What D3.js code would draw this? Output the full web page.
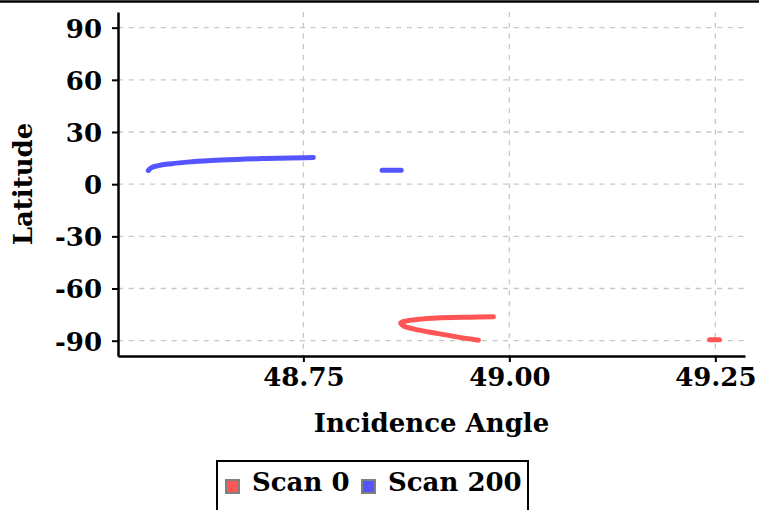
<!DOCTYPE html>
<html>
<head>
<meta charset="utf-8">
<script src="https://cdn.jsdelivr.net/npm/d3@7"></script>
<style>
  html, body { margin: 0; padding: 0; background: #fff; }
  svg { display: block; }
  text { font-family: "DejaVu Serif", serif; font-weight: bold; fill: #000; }
</style>
</head>
<body>
<svg id="chart" width="759" height="510"></svg>
<script>
// Scan 0: the hooked arc near the south pole and a short tail at the far right
const scan0ArcAngle = [48.9806, 48.9523, 48.9119, 48.8916, 48.8755, 48.8682, 48.8714, 48.8835, 48.9119, 48.9362, 48.9624];
const scan0ArcLat   = [-76.3, -76.5, -76.9, -77.6, -78.6, -79.7, -81.5, -83.2, -85.8, -87.8, -89.7];
const scan0TailAngle = [49.243, 49.255];
const scan0TailLat   = [-89.5, -89.5];

// Scan 200: the rising arc just north of the equator and a short flat piece
const scan200ArcAngle = [48.5618, 48.5650, 48.5740, 48.5900, 48.6150, 48.6500, 48.7000, 48.7621];
const scan200ArcLat   = [7.9, 9.3, 10.7, 11.8, 12.9, 13.9, 14.8, 15.4];
const scan200TailAngle = [48.8455, 48.8687];
const scan200TailLat   = [8.0, 8.0];

const seriesNames  = ["Scan 0", "Scan 200"];
const seriesColors = ["#ff5555", "#5555ff"];

const xTicks = [48.75, 49.00, 49.25];
const yTicks = [90, 60, 30, 0, -30, -60, -90];

const zip = (a, b) => a.map((v, i) => [v, b[i]]);

const svg = d3.select("#chart");
const plotLeft = 118, plotRight = 745, plotTop = 12, plotBottom = 356;
const fontSize = "26px";

const x = d3.scaleLinear().domain([48.525, 49.286]).range([plotLeft, plotRight]);
const y = d3.scaleLinear().domain([-98.8, 99]).range([plotBottom, plotTop]);

// the scan-0 arc folds back on itself, so it is smoothed along its path;
// the scan-200 arc is a function of angle and is kept monotone in x
const pathLine = d3.line().x(d => x(d[0])).y(d => y(d[1])).curve(d3.curveCatmullRom);
const xLine = d3.line().x(d => x(d[0])).y(d => y(d[1])).curve(d3.curveMonotoneX);

const series = [
  { name: seriesNames[0], color: seriesColors[0], gen: pathLine,
    segments: [zip(scan0ArcAngle, scan0ArcLat), zip(scan0TailAngle, scan0TailLat)] },
  { name: seriesNames[1], color: seriesColors[1], gen: xLine,
    segments: [zip(scan200ArcAngle, scan200ArcLat), zip(scan200TailAngle, scan200TailLat)] }
];

// frame line along the top edge
svg.append("line").attr("x1", 0).attr("x2", 759).attr("y1", 1.5).attr("y2", 1.5)
  .attr("stroke", "#000").attr("stroke-width", 2.5);

// dashed grid
const grid = svg.append("g").attr("stroke", "#c8c8c8").attr("stroke-width", 1.3)
  .attr("stroke-dasharray", "5,5.7");
grid.selectAll("line.h").data(yTicks).join("line").attr("class", "h")
  .attr("x1", plotLeft).attr("x2", plotRight).attr("y1", d => y(d)).attr("y2", d => y(d));
grid.selectAll("line.v").data(xTicks).join("line").attr("class", "v")
  .attr("y1", plotTop).attr("y2", plotBottom).attr("x1", d => x(d)).attr("x2", d => x(d));

// series
series.forEach(s => {
  svg.append("g").selectAll("path").data(s.segments).join("path")
    .attr("d", s.gen).attr("fill", "none").attr("stroke", s.color)
    .attr("stroke-width", 5).attr("stroke-linecap", "round").attr("stroke-linejoin", "round");
});

// axes (plain hyphen for negative latitudes)
const latFormat = d => String(d);
const xAxis = svg.append("g").attr("transform", `translate(0,${plotBottom})`)
  .call(d3.axisBottom(x).tickValues(xTicks).tickFormat(d3.format(".2f"))
    .tickSize(6).tickSizeOuter(0).tickPadding(6));
const yAxis = svg.append("g").attr("transform", `translate(${plotLeft},0)`)
  .call(d3.axisLeft(y).tickValues(yTicks).tickFormat(latFormat)
    .tickSize(6).tickSizeOuter(0).tickPadding(10));
[xAxis, yAxis].forEach(g => {
  g.attr("font-family", null).attr("font-size", null);
  g.select(".domain").attr("stroke", "#000").attr("stroke-width", 2.5);
  g.selectAll(".tick line").attr("stroke", "#000").attr("stroke-width", 2);
  g.selectAll(".tick text").style("font-size", fontSize).attr("fill", "#000");
});
yAxis.selectAll(".tick text").attr("dy", "0.36em");

// axis titles
svg.append("text").attr("x", (plotLeft + plotRight) / 2).attr("y", 432)
  .attr("text-anchor", "middle").style("font-size", fontSize).text("Incidence Angle");
svg.append("text").attr("transform", `translate(32,${(plotTop + plotBottom) / 2}) rotate(-90)`)
  .attr("text-anchor", "middle").style("font-size", fontSize).text("Latitude");

// legend
const legend = svg.append("g");
legend.append("rect").attr("x", 217).attr("y", 461).attr("width", 311).attr("height", 60)
  .attr("fill", "#fff").attr("stroke", "#000").attr("stroke-width", 2);
const legendX = [226, 362];
series.forEach((s, i) => {
  legend.append("rect").attr("x", legendX[i]).attr("y", 480).attr("width", 13).attr("height", 13)
    .attr("fill", s.color).attr("stroke", "#808080").attr("stroke-width", 2);
  legend.append("text").attr("x", legendX[i] + 26).attr("y", 491)
    .style("font-size", fontSize).text(s.name);
});
</script>
</body>
</html>
